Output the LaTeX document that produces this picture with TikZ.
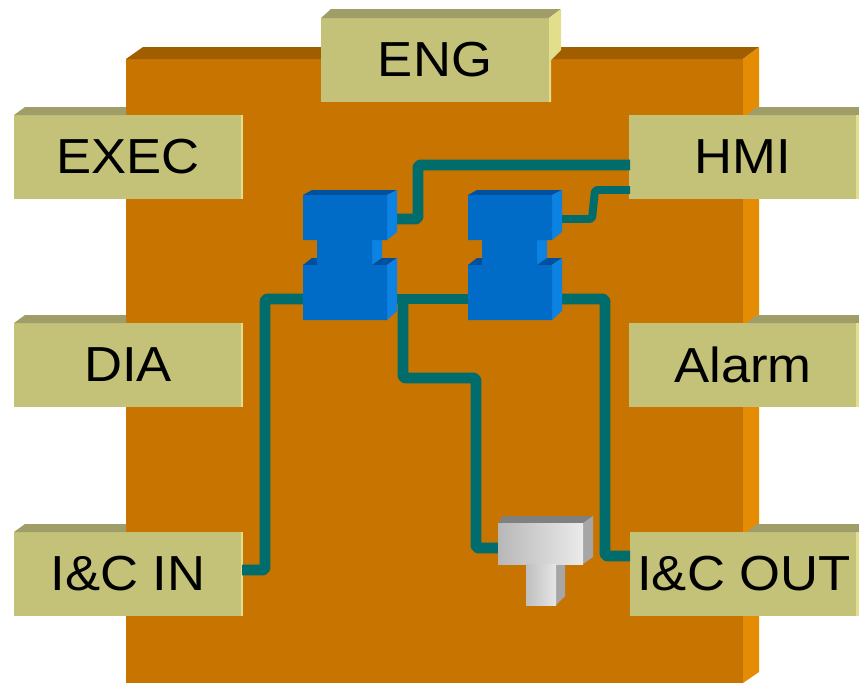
\documentclass[tikz,border=0pt]{standalone}
\usepackage{fontspec}
\setmainfont[FakeStretch=1.07]{Liberation Sans}
\usetikzlibrary{calc}
\definecolor{boxfront}{RGB}{200,116,0}
\definecolor{boxtop}{RGB}{160,94,0}
\definecolor{boxside}{RGB}{228,140,4}
\definecolor{tagfront}{RGB}{196,194,120}
\definecolor{tagtop}{RGB}{160,158,104}
\definecolor{tagside}{RGB}{226,222,140}
\definecolor{swfront}{RGB}{0,108,200}
\definecolor{swtop}{RGB}{0,80,160}
\definecolor{swside}{RGB}{12,130,226}
\definecolor{wirecol}{RGB}{0,108,108}
\newcommand{\unitpx}{*0.5669pt}
\tikzset{
  tag/.style={fill=tagfront, inner sep=0pt, minimum width=228\unitpx, minimum height=84\unitpx,
    font=\fontsize{28}{30}\selectfont, text=black},
  wire/.style={draw=wirecol, line width=11\unitpx, rounded corners=1.5pt, line join=round},
}
\begin{document}
\begin{tikzpicture}[x=0.02cm, y=-0.02cm]
  \useasboundingbox (0,0) rectangle (859,683);

  % housing
  \fill[boxfront] (126,59) rectangle (743,683);
  \fill[boxtop] (126,59) -- (143,47) -- (759,47) -- (743,59) -- cycle;
  \fill[boxside] (743,59) -- (759,47) -- (759,672) -- (743,683) -- cycle;

  \coordinate (A1) at (397,299);
  \coordinate (A2) at (397,219);
  \coordinate (A3) at (303,299);
  \coordinate (B1) at (468,299);
  \coordinate (B2) at (562,219);
  \coordinate (B3) at (562,299);
  \coordinate (H1) at (630,165);
  \coordinate (H2) at (630,190);
  \coordinate (T1) at (498,548);
  \coordinate (I1) at (242,570);
  \coordinate (O1) at (630,556);

  \node[tag] (exec) at (128,157) {EXEC};
  \node[tag] (dia) at (128,365) {DIA};
  \node[tag] (icin) at (128,574) {I\&C IN};
  \node[tag] (eng) at (435,60) {ENG};
  \node[tag] (hmi) at (743,157) {HMI};
  \node[tag] (alarm) at (743,365) {Alarm};
  \node[tag] (icout) at (744,574) {I\&C OUT};

  \foreach \y in {115,323,532} {
    \fill[tagtop] (14,\y) -- (25,\y-8) -- (126,\y-8) -- (126,\y) -- cycle;
    \fill[tagside] (241,\y) rectangle (243,\y+84);
    \fill[tagtop] (747,\y) -- (757,\y-8) -- (859,\y-8) -- (859,\y) -- cycle;
    \fill[tagside] (856,\y) rectangle (859,\y+84);
  }
  \fill[tagtop] (321,18) -- (331,9) -- (561,9) -- (549,18) -- cycle;
  \fill[tagside] (549,18) -- (561,9) -- (561,50) -- (551,60) -- (551,102) -- (549,102) -- cycle;

  % wiring
  \draw[wire] (I1) -- (265,570) -- (265,299) -- (A3);
  \draw[wire] (A2) -- (418,219) -- (418,165) -- (H1);
  \draw[wire, line width=8\unitpx] (B2) -- (592,219) -- (595,190) -- (H2);
  \draw[wire] (A1) -- (B1);
  \draw[wire] (403,299) -- (403,378) -- (476,378) -- (476,548) -- (T1);
  \draw[wire] (B3) -- (605,299) -- (605,556) -- (O1);

  % switches
  \foreach \bx in {0,165} {
    \begin{scope}[shift={(\bx,0)}]
      \fill[swtop] (303,195) -- (312,190) -- (397,190) -- (387,195) -- cycle;
      \fill[swside] (387,195) -- (397,190) -- (397,232) -- (387,240) -- cycle;
      \fill[swside] (372,240) -- (382,240) -- (382,258) -- (372,265) -- cycle;
      \fill[swtop] (303,265) -- (312,258) -- (317,258) -- (317,265) -- cycle;
      \fill[swtop] (372,265) -- (382,258) -- (397,258) -- (387,265) -- cycle;
      \fill[swside] (387,265) -- (397,258) -- (397,311) -- (387,320) -- cycle;
      \fill[swfront] (303,195) -- (387,195) -- (387,240) -- (372,240) -- (372,265)
        -- (387,265) -- (387,320) -- (303,320) -- (303,265) -- (317,265) -- (317,240)
        -- (303,240) -- cycle;
    \end{scope}
  }

  % tee
  \fill[black!50] (498,523) -- (503,516) -- (593,516) -- (583,523) -- cycle;
  \fill[black!35] (583,523) -- (593,516) -- (593,557) -- (583,564) -- cycle;
  \fill[black!35] (556,564) -- (565,564) -- (565,596) -- (556,605) -- cycle;
  \shade[left color=black!28, right color=black!8] (498,523) rectangle (583,564);
  \shade[left color=black!25, right color=black!10] (526,564) rectangle (556,605);
\end{tikzpicture}
\end{document}
